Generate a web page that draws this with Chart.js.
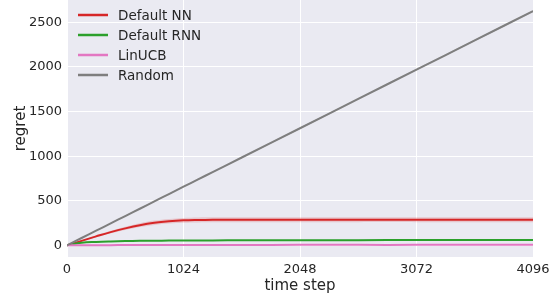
<!DOCTYPE html>
<html><head><meta charset="utf-8">
<script src="https://cdn.jsdelivr.net/npm/chart.js@4/dist/chart.umd.min.js"></script>
<style>html,body{margin:0;padding:0;background:#fff}#wrap{width:556px;height:295px}</style>
</head><body><div id="wrap"><canvas id="c" width="556" height="295"></canvas></div>
<script>
const steps   = [0,128,256,384,512,640,768,896,1024,1152,1280,1536,2048,2560,3072,3584,4096];
const randomV = [0,82,164,246,328,410,493,575,657,739,821,985,1313,1642,1970,2298,2627];
const nnV     = [0,50,100,148,190,226,253,270,280,284,286,287,287,288,288,288,288];
const rnnV    = [0,28,38,44,48,50,52,53,54,55,55,56,57,58,59,59,60];
const linV    = [0,1,2,2,3,3,3,3,4,4,4,4,5,5,5,6,6];
const nnSpread  = [0,5,10,14,18,21,24,26,27,28,28,28,28,28,28,28,28];
const rndSpread = [0,2,3,4,5,5,6,6,7,7,8,8,9,9,10,10,11];
const rnnSpread = [0,2,3,3,4,4,4,4,4,4,4,4,4,4,4,4,4];
const xTicks = [0,1024,2048,3072,4096];
const yTicks = [0,500,1000,1500,2000,2500];
const seriesNames = ['Default NN','Default RNN','LinUCB','Random'];
const seriesColors = ['#d62728','#2ca02c','#e377c2','#7f7f7f'];

const pts = (vals, sp, sign) => steps.map((s,i)=>({x:s,y: sp ? vals[i] + sign*sp[i] : vals[i]}));
function band(vals, sp, color){
  return [
    {data:pts(vals,sp,-1), borderWidth:0, pointRadius:0, fill:false, tension:0.4},
    {data:pts(vals,sp,1), borderWidth:0, pointRadius:0, fill:'-1', backgroundColor:color, tension:0.4}
  ];
}
const datasets = [
  ...band(randomV, rndSpread, 'rgba(127,127,127,0.25)'),
  ...band(nnV, nnSpread, 'rgba(214,39,40,0.18)'),
  ...band(rnnV, rnnSpread, 'rgba(44,160,44,0.2)'),
  {label:seriesNames[3], data:pts(randomV), borderColor:seriesColors[3], borderWidth:2, pointRadius:0, tension:0.4, fill:false},
  {label:seriesNames[2], data:pts(linV), borderColor:seriesColors[2], borderWidth:2, pointRadius:0, tension:0.4, fill:false},
  {label:seriesNames[1], data:pts(rnnV), borderColor:seriesColors[1], borderWidth:2, pointRadius:0, tension:0.4, fill:false},
  {label:seriesNames[0], data:pts(nnV), borderColor:seriesColors[0], borderWidth:2, pointRadius:0, tension:0.4, fill:false}
];

const FONT = 'DejaVu Sans';
const TXT = '#262626';

const bgPlugin = {
  id:'bg',
  beforeDraw(chart){
    const {ctx, chartArea:a} = chart;
    ctx.save(); ctx.fillStyle='#EAEAF2';
    ctx.fillRect(a.left, a.top, a.right-a.left, a.bottom-a.top);
    ctx.restore();
  }
};
const legendPlugin = {
  id:'legendIn',
  afterDraw(chart){
    const {ctx, chartArea:a} = chart;
    ctx.save();
    ctx.font = '13.5px "' + FONT + '"';
    ctx.textBaseline='middle';
    seriesNames.forEach((n,i)=>{
      const y = a.top + 15 + 20*i;
      ctx.strokeStyle = seriesColors[i]; ctx.lineWidth = 2.5;
      ctx.beginPath(); ctx.moveTo(a.left+11, y); ctx.lineTo(a.left+41, y); ctx.stroke();
      ctx.fillStyle = TXT; ctx.fillText(n, a.left+51, y+1);
    });
    ctx.restore();
  }
};
const noPad = s => { s.paddingTop=0; s.paddingBottom=0; s.paddingLeft=0; s.paddingRight=0; };

new Chart(document.getElementById('c'), {
  type:'line',
  data:{datasets},
  plugins:[bgPlugin, legendPlugin],
  options:{
    responsive:false, animation:false,
    layout:{padding:{left:0,right:23,top:0,bottom:0}},
    plugins:{legend:{display:false}, tooltip:{enabled:false}},
    scales:{
      x:{type:'linear', min:0, max:4096,
        afterFit(s){s.height=38; noPad(s);},
        afterBuildTicks(s){s.ticks = xTicks.map(v=>({value:v}));},
        grid:{color:'#ffffff', lineWidth:1, drawTicks:false},
        border:{display:false},
        ticks:{color:TXT, font:{family:FONT,size:13}, padding:5, maxRotation:0, autoSkip:false, callback:v=>String(v)},
        title:{display:true, text:'time step', color:TXT, font:{family:FONT,size:15}, padding:{top:0,bottom:0}}
      },
      y:{type:'linear', min:-131, max:2751,
        afterFit(s){s.width=67; noPad(s);},
        afterBuildTicks(s){s.ticks = yTicks.map(v=>({value:v}));},
        grid:{color:'#ffffff', lineWidth:1, drawTicks:false},
        border:{display:false},
        ticks:{color:TXT, font:{family:FONT,size:13}, padding:5, callback:v=>String(v)},
        title:{display:true, text:'regret', color:TXT, font:{family:FONT,size:15}, padding:{top:12,bottom:0}}
      }
    }
  }
});
</script></body></html>
